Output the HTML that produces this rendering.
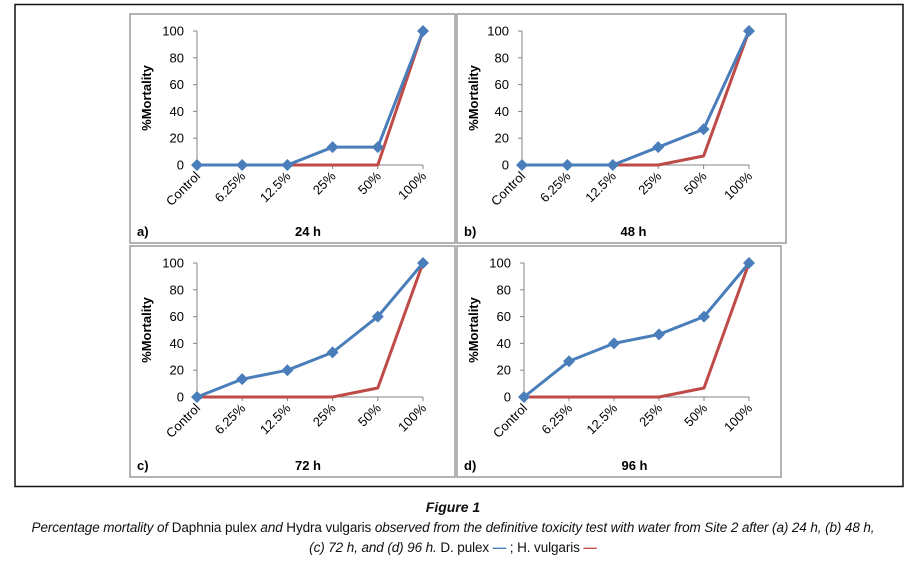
<!DOCTYPE html>
<html><head><meta charset="utf-8"><style>
body{margin:0;background:#fff;width:906px;height:570px;overflow:hidden;font-family:"Liberation Sans",sans-serif}
svg text{font-family:"Liberation Sans",sans-serif}
.cap{position:absolute;left:0;width:906px;text-align:center;font-family:"Liberation Sans",sans-serif;font-size:13.5px;color:#111}
</style></head><body>
<svg id="fig" width="906" height="495" style="position:absolute;left:0;top:0">
<rect x="15" y="4.5" width="888" height="482" fill="none" stroke="#111" stroke-width="1.5"/>
</svg>
<div class="cap" style="top:499px;font-weight:bold;font-style:italic;font-size:14px">Figure 1</div>
<div class="cap" style="top:518px;line-height:20px;letter-spacing:-0.1px"><i>Percentage mortality of</i> Daphnia pulex <i>and</i> Hydra vulgaris <i>observed from the definitive toxicity test with water from Site 2 after (a) 24 h, (b) 48 h,</i><br><i>(c) 72 h, and (d) 96 h.</i> D. pulex <span style="color:#4a7ebb;font-weight:bold">—</span> ; H. vulgaris <span style="color:#c0504d;font-weight:bold">—</span></div>
<script>
const categories=["Control","6.25%","12.5%","25%","50%","100%"];
const yTicks=[0,20,40,60,80,100];
const pulex24=[0,0,0,13.3,13.3,100];
const vulgaris24=[0,0,0,0,0,100];
const pulex48=[0,0,0,13.3,26.7,100];
const vulgaris48=[0,0,0,0,6.7,100];
const pulex72=[0,13.3,20,33.3,60,100];
const vulgaris72=[0,0,0,0,6.7,100];
const pulex96=[0,26.7,40,46.7,60,100];
const vulgaris96=[0,0,0,0,6.7,100];
const panels=[
 {id:"a",label:"a)",title:"24 h",blue:pulex24,red:vulgaris24,px:130,py:14,pw:325,ph:229,ax:197,ax2:423,y0:165,y1:31,redStart:2},
 {id:"b",label:"b)",title:"48 h",blue:pulex48,red:vulgaris48,px:457,py:14,pw:329,ph:229,ax:522,ax2:749,y0:165,y1:31,redStart:2},
 {id:"c",label:"c)",title:"72 h",blue:pulex72,red:vulgaris72,px:130,py:246,pw:325,ph:231,ax:197,ax2:423,y0:397,y1:263,redStart:0},
 {id:"d",label:"d)",title:"96 h",blue:pulex96,red:vulgaris96,px:457,py:246,pw:324,ph:231,ax:524,ax2:749,y0:397,y1:263,redStart:0}
];
const svg=document.getElementById('fig');
const NS="http://www.w3.org/2000/svg";
function mk(tag,attrs,parent){const e=document.createElementNS(NS,tag);for(const k in attrs)e.setAttribute(k,attrs[k]);(parent||svg).appendChild(e);return e;}
panels.forEach(p=>{
 const g=mk('g',{});
 
 
 const fr=mk('rect',{x:p.px,y:p.py,width:p.pw,height:p.ph,fill:'#fff',stroke:'#9a9a9a','stroke-width':1.5},g);
 
 
 const xs=i=>p.ax+(p.ax2-p.ax)*i/(categories.length-1);
 const ys=v=>p.y0-(p.y0-p.y1)*v/100;
 const yax=mk('line',{x1:p.ax,x2:p.ax,y1:ys(100),y2:ys(0),stroke:'#868686','stroke-width':1},g);
 
 
 const xax=mk('line',{x1:p.ax,x2:p.ax2,y1:ys(0),y2:ys(0),stroke:'#868686','stroke-width':1},g);
 
 
 yTicks.forEach(t=>{
  mk('line',{x1:p.ax-4,x2:p.ax,y1:ys(t),y2:ys(t),stroke:'#868686'},g);
  const tx=mk('text',{x:p.ax-13,y:ys(t)+4.5,'text-anchor':'end','font-size':13,fill:'#000'},g);
  tx.textContent=t;
  
  
 });
 categories.forEach((c,i)=>{
  mk('line',{x1:xs(i),x2:xs(i),y1:ys(0),y2:ys(0)+4,stroke:'#868686'},g);
  const tx=mk('text',{x:xs(i)+4,y:ys(0)+12,'text-anchor':'end','font-size':13,fill:'#000',transform:`rotate(-45 ${xs(i)+4} ${ys(0)+12})`},g);
  tx.textContent=c;
  
  
 });
 const yt=mk('text',{x:0,y:0,'text-anchor':'middle','font-size':13,'font-weight':'bold',transform:`translate(${p.px+21},${(p.y0+p.y1)/2}) rotate(-90)`},g);
 yt.textContent='%Mortality';
 
 
 const redPts=p.red.map((v,i)=>[xs(i),ys(v)]).slice(p.redStart).map(a=>a.join(',')).join(' ');
 const rl=mk('polyline',{points:redPts,fill:'none',stroke:'#be4b48','stroke-width':3,'stroke-linejoin':'round'},g);
 
 
 const bl=mk('polyline',{points:p.blue.map((v,i)=>xs(i)+','+ys(v)).join(' '),fill:'none',stroke:'#4a7ebb','stroke-width':3,'stroke-linejoin':'round'},g);
 
 
 p.blue.forEach((v,i)=>{
  const x=xs(i),y=ys(v);
  const m=mk('polygon',{points:`${x},${y-6} ${x+6},${y} ${x},${y+6} ${x-6},${y}`,fill:'#4a7ebb'},g);
  
  
 });
 const lb=mk('text',{x:p.px+7,y:p.py+p.ph-7,'font-size':13,'font-weight':'bold'},g);
 lb.textContent=p.label;
 
 
 const tt=mk('text',{x:(p.ax+p.ax2)/2-2,y:p.py+p.ph-7,'text-anchor':'middle','font-size':13,'font-weight':'bold'},g);
 tt.textContent=p.title;
 
 
});
</script>
</body></html>
